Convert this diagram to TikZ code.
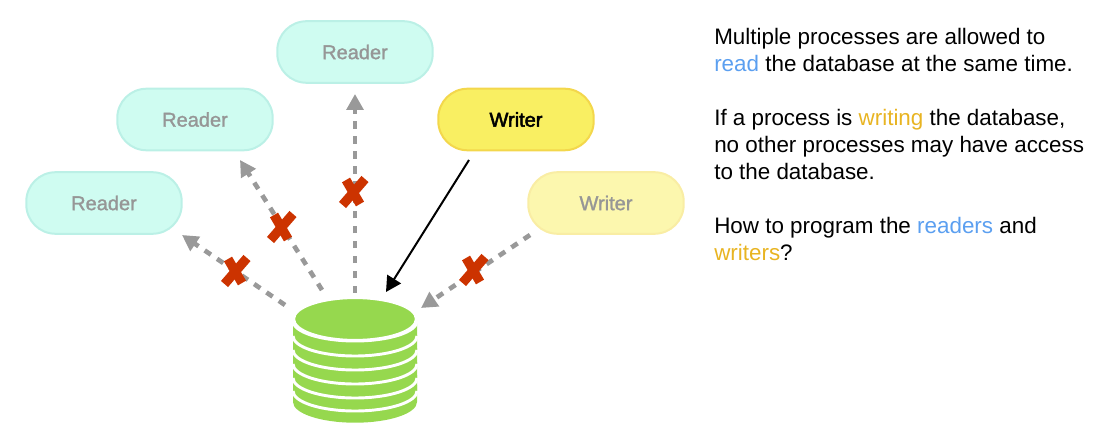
\documentclass[tikz,border=0pt]{standalone}
\usepackage{fontspec}
\setmainfont{Liberation Sans}
\newfontfamily\fbold[FakeBold=2.5]{Liberation Sans}
\newfontfamily\fsemi[FakeBold=1.4]{Liberation Sans}
\usetikzlibrary{arrows.meta}
\definecolor{rfill}{HTML}{CFFCF1}
\definecolor{rline}{HTML}{BBF0E6}
\definecolor{wfill}{HTML}{F9EF62}
\definecolor{wline}{HTML}{F3D74C}
\definecolor{lfill}{HTML}{FCF7AE}
\definecolor{lline}{HTML}{F9EDA4}
\definecolor{gtext}{HTML}{969696}
\definecolor{dbgreen}{HTML}{96D84E}
\definecolor{xred}{HTML}{CC3300}
\definecolor{garrow}{HTML}{999999}
\definecolor{tblue}{HTML}{5B9FF0}
\definecolor{torange}{HTML}{E8B422}
\tikzset{
 pill/.style={minimum width=116.6pt,minimum height=46.2pt,rounded corners=22pt,line width=1.5pt,inner sep=0pt,font=\fontsize{15}{18}\selectfont},
 reader/.style={pill,draw=rline,fill=rfill,text=gtext},
 writeron/.style={pill,draw=wline,fill=wfill,text=black},
 writeroff/.style={pill,draw=lline,fill=lfill,text=gtext},
 blocked/.style={draw=garrow,line width=3.5pt,dash pattern=on 5.6pt off 5.6pt,-{Triangle[length=12pt,width=12.5pt]}},
 allowed/.style={draw=black,line width=1.5pt,-{Triangle[length=11.5pt,width=12pt]}},
 cross/.style={draw=xred,line width=7pt},
 info/.style={anchor=base west,inner sep=0pt,font=\fontsize{16.8}{20}\selectfont},
 layer/.style={draw=white,line width=2.2pt},
}
\newcommand{\xmark}[1]{%
 \draw[cross] ([shift={(-7,-12)}]#1) -- ([shift={(7,12)}]#1);
 \draw[cross] ([shift={(12,-13)}]#1) -- ([shift={(-10.5,13)}]#1);}
\begin{document}
\begin{tikzpicture}[x=0.75pt,y=-0.75pt]
\useasboundingbox (0,0) rectangle (1116,434);

\node[reader] (r1) at (104,203) {\fsemi Reader};
\node[reader] (r2) at (195,119.5) {\fsemi Reader};
\node[reader] (r3) at (355,52) {\fsemi Reader};
\node[writeron] (w1) at (516,119.5) {\fbold Writer};
\node[writeroff] (w2) at (606,203) {\fsemi Writer};

% database: stacked layers, bottom to top
\fill[dbgreen] (293,402) arc[start angle=180,end angle=0,x radius=62,y radius=20.7] -- (417,385) -- (293,385) -- cycle;
\foreach \b/\t in {411/375,398/362,384/348,370/335,356/323,341/323}{
  \fill[dbgreen] (293,{\b-20}) arc[start angle=180,end angle=0,x radius=62,y radius=20] -- (417,\t) -- (293,\t) -- cycle;
  \draw[layer] (293,{\b-20}) arc[start angle=180,end angle=0,x radius=62,y radius=20];
}
\draw[white,line width=1.6pt,fill=dbgreen] (355,319) ellipse[x radius=61,y radius=21];
\coordinate (db) at (355,319);

\coordinate (s1) at (285,305);
\coordinate (s2) at (322,290);
\coordinate (s3) at (355,293);
\coordinate (s4) at (530,235);
\coordinate (s5) at (469,160);
\coordinate (t1) at (182,235);
\coordinate (t2) at (240,160);
\coordinate (t3) at (355,94);
\coordinate (t4) at (421,308);
\coordinate (t5) at (386,292);

\draw[blocked] (s1) -- (t1);
\draw[blocked] (s2) -- (t2);
\draw[blocked] (s3) -- (t3);
\draw[blocked] (s4) -- (t4);
\draw[allowed] (s5) -- (t5);

\coordinate (x1) at (235,271);
\coordinate (x2) at (281,227);
\coordinate (x3) at (353,192);
\coordinate (x4) at (473,270);
\xmark{x1}
\xmark{x2}
\xmark{x3}
\xmark{x4}

\node[info] (l1) at (714,44.5) {Multiple processes are allowed to};
\node[info] (l2) at (714,71.5) {\textcolor{tblue}{read} the database at the same time.};
\node[info] (l3) at (714,125.5) {If a process is \textcolor{torange}{writing} the database,};
\node[info] (l4) at (714,152.5) {no other processes may have access};
\node[info] (l5) at (714,179.5) {to the database.};
\node[info] (l6) at (714,233.5) {How to program the \textcolor{tblue}{readers} and};
\node[info] (l7) at (714,260.5) {\textcolor{torange}{writers}?};
\end{tikzpicture}
\end{document}
